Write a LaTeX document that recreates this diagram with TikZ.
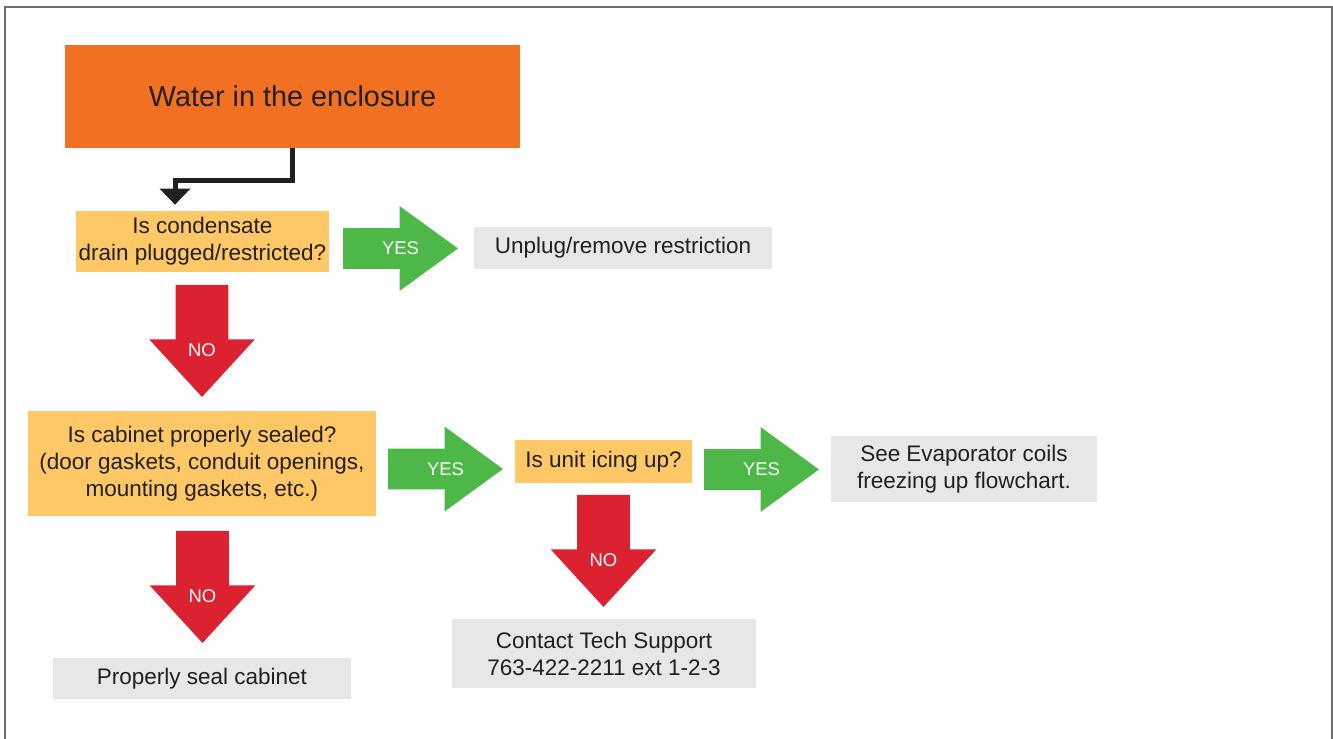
\documentclass[tikz,border=0pt]{standalone}
\usepackage{fontspec}
\setmainfont{Liberation Sans}
\usetikzlibrary{arrows.meta, positioning, shapes.arrows}
\definecolor{startorange}{RGB}{241,112,34}
\definecolor{qyellow}{RGB}{253,200,101}
\definecolor{agray}{RGB}{230,231,232}
\definecolor{yesgreen}{RGB}{77,184,72}
\definecolor{nored}{RGB}{220,34,49}
\definecolor{inkdark}{RGB}{35,31,32}
\definecolor{framegray}{RGB}{110,110,113}
\tikzset{
  startbox/.style = {fill=startorange, text=inkdark, align=center, inner sep=0pt,
                     font=\fontsize{16.4}{19}\selectfont},
  qbox/.style     = {fill=qyellow, text=inkdark, align=center, inner sep=0pt,
                     font=\fontsize{12.8}{15.4}\selectfont},
  abox/.style     = {fill=agray, text=inkdark, align=center, inner sep=0pt,
                     font=\fontsize{12.8}{15.4}\selectfont},
  yesarrow/.style = {single arrow, fill=yesgreen, anchor=tail, outer sep=0pt,
                     inner xsep=0pt, inner ysep=0.4cm, minimum height=2.3cm,
                     single arrow head extend=0.44cm, single arrow tip angle=72},
  noarrow/.style  = {single arrow, fill=nored, anchor=tail, rotate=-90, outer sep=0pt,
                     inner xsep=0pt, inner ysep=0.52cm, minimum height=2.24cm,
                     single arrow head extend=0.53cm, single arrow tip angle=85},
  arrowlbl/.style = {text=white, inner sep=0pt, font=\fontsize{10.5}{12}\selectfont},
  flow/.style     = {-{Triangle[width=0.6cm,length=0.32cm]}, line width=0.1cm, draw=inkdark},
}

\begin{document}
\begin{tikzpicture}[x=0.02cm, y=-0.02cm]
\useasboundingbox (0,0) rectangle (1333,739);

% outer frame
\draw[framegray, line width=0.03cm] (5,760) -- (5,7) -- (1332,7) -- (1332,760);

% start
\node[startbox, minimum width=9.1cm, minimum height=2.06cm] (start) at (292.5,96.5) {Water in the enclosure};

% questions
\node[qbox, minimum width=5.06cm, minimum height=1.22cm] (q1) at (202.5,241.5) {Is condensate\\drain plugged/restricted?};
\node[qbox, minimum width=6.96cm, minimum height=2.1cm] (q2) at (202,463.5) {Is cabinet properly sealed?\\(door gaskets, conduit openings,\\mounting gaskets, etc.)};
\node[qbox, minimum width=3.54cm, minimum height=0.86cm] (q3) at (603.5,461.5) {Is unit icing up?};

% actions
\node[abox, minimum width=5.96cm, minimum height=0.84cm] (a1) at (623,248) {Unplug/remove restriction};
\node[abox, minimum width=5.96cm, minimum height=0.82cm] (a2) at (202,678.5) {Properly seal cabinet};
\node[abox, minimum width=5.32cm, minimum height=1.32cm] (a3) at (964,469) {See Evaporator coils\\freezing up flowchart.};
\node[abox, minimum width=6.08cm, minimum height=1.38cm] (a4) at (604,653.5) {Contact Tech Support\\763-422-2211 ext 1-2-3};

% start -> q1
\draw[flow] (start.south) -- ++(0,32.5) -| ([xshift=-0.55cm, yshift=0.12cm]q1.north);

% yes arrows
\node[yesarrow] (yes1) at (343,248.5) {};
\node[yesarrow] (yes2) at (388,469) {};
\node[yesarrow] (yes3) at (704,469.5) {};
\foreach \a in {yes1,yes2,yes3} {
  \node[arrowlbl] (\a l) at ([xshift=1.15cm]\a.tail) {YES};
}

% no arrows
\node[noarrow] (no1) at (202,285) {};
\node[noarrow] (no2) at (202.5,531) {};
\node[noarrow] (no3) at (603.5,495) {};
\foreach \a in {no1,no2,no3} {
  \node[arrowlbl] (\a l) at ([yshift=-1.3cm]\a.tail) {NO};
}

\end{tikzpicture}
\end{document}
